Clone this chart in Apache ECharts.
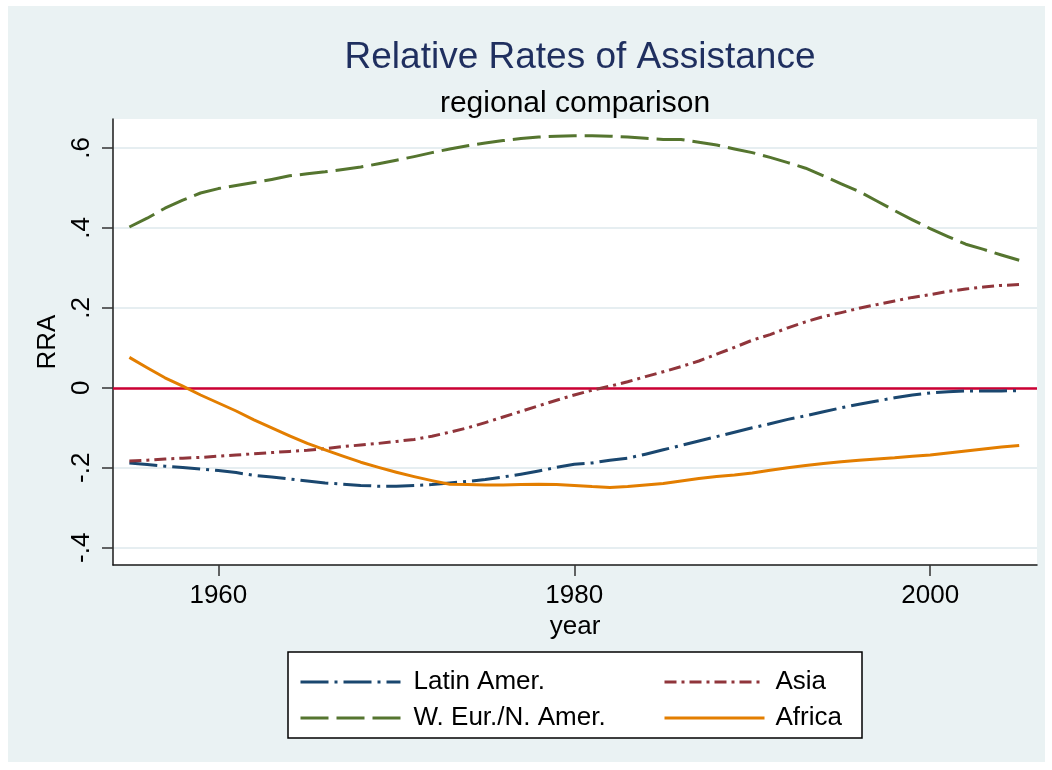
<!DOCTYPE html>
<html>
<head>
<meta charset="utf-8">
<title>Relative Rates of Assistance</title>
<script src="https://cdn.jsdelivr.net/npm/echarts@6/dist/echarts.min.js"></script>
<style>
  html, body { margin: 0; padding: 0; background: #ffffff; }
  #chart { width: 1052px; height: 770px; }
</style>
</head>
<body>
<div id="chart"></div>
<script>
// Years covered by every regional series
const years = [1955, 1956, 1957, 1958, 1959, 1960, 1961, 1962, 1963, 1964,
  1965, 1966, 1967, 1968, 1969, 1970, 1971, 1972, 1973, 1974,
  1975, 1976, 1977, 1978, 1979, 1980, 1981, 1982, 1983, 1984,
  1985, 1986, 1987, 1988, 1989, 1990, 1991, 1992, 1993, 1994,
  1995, 1996, 1997, 1998, 1999, 2000, 2001, 2002, 2003, 2004, 2005];

// Relative rate of assistance by region, one value per year
const latinAmer = [-0.188, -0.192, -0.196, -0.199, -0.203, -0.207, -0.212, -0.219, -0.223, -0.228,
  -0.233, -0.238, -0.241, -0.244, -0.246, -0.246, -0.244, -0.242, -0.238, -0.234,
  -0.229, -0.223, -0.216, -0.208, -0.199, -0.191, -0.188, -0.181, -0.176, -0.166,
  -0.155, -0.144, -0.133, -0.122, -0.111, -0.100, -0.090, -0.079, -0.070, -0.060,
  -0.050, -0.041, -0.033, -0.025, -0.018, -0.013, -0.010, -0.008, -0.008, -0.008, -0.007];

const asia = [-0.183, -0.181, -0.178, -0.176, -0.174, -0.171, -0.168, -0.165, -0.162, -0.159,
  -0.156, -0.152, -0.147, -0.143, -0.139, -0.134, -0.129, -0.121, -0.111, -0.100,
  -0.087, -0.073, -0.059, -0.045, -0.031, -0.018, -0.006, 0.004, 0.015, 0.028,
  0.040, 0.053, 0.067, 0.084, 0.101, 0.119, 0.133, 0.150, 0.165, 0.178,
  0.188, 0.199, 0.208, 0.217, 0.226, 0.233, 0.241, 0.247, 0.252, 0.256, 0.258];

const wEurNAmer = [0.402, 0.424, 0.449, 0.469, 0.487, 0.498, 0.506, 0.513, 0.521, 0.530,
  0.535, 0.540, 0.546, 0.552, 0.560, 0.569, 0.578, 0.588, 0.597, 0.605,
  0.612, 0.618, 0.623, 0.627, 0.629, 0.630, 0.630, 0.629, 0.627, 0.624,
  0.621, 0.621, 0.614, 0.607, 0.597, 0.588, 0.576, 0.563, 0.549, 0.530,
  0.510, 0.491, 0.467, 0.443, 0.420, 0.398, 0.378, 0.359, 0.346, 0.332, 0.319];

const africa = [0.076, 0.050, 0.025, 0.004, -0.018, -0.038, -0.058, -0.080, -0.100, -0.120,
  -0.139, -0.155, -0.171, -0.186, -0.199, -0.211, -0.222, -0.232, -0.241, -0.242,
  -0.243, -0.243, -0.242, -0.241, -0.242, -0.244, -0.247, -0.249, -0.247, -0.243,
  -0.239, -0.233, -0.227, -0.222, -0.218, -0.213, -0.206, -0.200, -0.194, -0.189,
  -0.185, -0.181, -0.178, -0.175, -0.171, -0.168, -0.163, -0.158, -0.153, -0.148, -0.144];

// Axis ticks and their printed labels
const xTicks = [1960, 1980, 2000];
const yTicks = [-0.4, -0.2, 0, 0.2, 0.4, 0.6];
const yTickLabels = ['-.4', '-.2', '0', '.2', '.4', '.6'];

const FONT = '"Liberation Sans", Arial, Helvetica, sans-serif';
const pairs = (vals) => years.map((y, i) => [y, vals[i]]);

const chart = echarts.init(document.getElementById('chart'), null, { renderer: 'canvas' });

const lineSeries = (name, vals, color, dash, z) => ({
  name: name,
  type: 'line',
  data: pairs(vals),
  symbol: 'none',
  showSymbol: false,
  smooth: false,
  z: z,
  color: color,
  lineStyle: { color: color, width: 3, type: dash, cap: 'butt', join: 'round' },
  emphasis: { disabled: true }
});

const legendBase = {
  orient: 'vertical',
  top: 664,
  itemWidth: 100,
  itemHeight: 14,
  itemGap: 10,
  selectedMode: false,
  itemStyle: { opacity: 0 },
  lineStyle: { width: 3 },
  textStyle: { fontFamily: FONT, fontSize: 26, color: '#000', lineHeight: 26 }
};

chart.setOption({
  animation: false,
  backgroundColor: '#ffffff',
  title: [
    {
      text: 'Relative Rates of Assistance',
      left: 575, top: 34, textAlign: 'center',
      textStyle: { fontFamily: FONT, fontSize: 37, fontWeight: 'normal', color: '#1F2F5F' }
    },
    {
      text: 'regional comparison',
      left: 570, top: 84, textAlign: 'center',
      textStyle: { fontFamily: FONT, fontSize: 30, fontWeight: 'normal', color: '#000' }
    }
  ],
  graphic: [
    { type: 'rect', z: -10, silent: true,
      shape: { x: 8, y: 6, width: 1037, height: 756 },
      style: { fill: '#EAF2F3' } },
    { type: 'rect', z: -5, silent: true,
      shape: { x: 288, y: 652, width: 574, height: 86 },
      style: { fill: '#ffffff', stroke: '#000000', lineWidth: 1.5 } }
  ],
  legend: [
    Object.assign({}, legendBase, {
      left: 294,
      data: ['Latin Amer.', 'W. Eur./N. Amer.'],
      textStyle: Object.assign({}, legendBase.textStyle, { padding: [0, 0, 0, 8] })
    }),
    Object.assign({}, legendBase, {
      left: 658,
      data: ['Asia', 'Africa'],
      textStyle: Object.assign({}, legendBase.textStyle, { padding: [0, 0, 0, 6] })
    })
  ],
  grid: {
    left: 113, right: 15, top: 119, bottom: 205,
    show: true, backgroundColor: '#ffffff', borderWidth: 0
  },
  xAxis: {
    type: 'value',
    min: 1954.08, max: 2006,
    name: 'year',
    nameLocation: 'middle',
    nameGap: 44,
    nameTextStyle: { fontFamily: FONT, fontSize: 26, color: '#000' },
    axisLine: { show: true, onZero: false, lineStyle: { color: '#1a1a1a', width: 1.5 } },
    axisTick: { show: true, length: 11, customValues: xTicks, lineStyle: { color: '#333', width: 1.5 } },
    axisLabel: {
      customValues: xTicks, margin: 18,
      fontFamily: FONT, fontSize: 26, color: '#000',
      formatter: (v) => String(v)
    },
    splitLine: { show: false }
  },
  yAxis: {
    type: 'value',
    min: -0.443, max: 0.672,
    name: 'RRA',
    nameLocation: 'middle',
    nameGap: 50,
    nameRotate: 90,
    nameTextStyle: { fontFamily: FONT, fontSize: 26, color: '#000' },
    axisLine: { show: true, onZero: false, lineStyle: { color: '#1a1a1a', width: 1.5 } },
    axisTick: { show: true, length: 11, customValues: yTicks, lineStyle: { color: '#333', width: 1.5 } },
    axisLabel: {
      customValues: yTicks,
      rotate: 90,
      margin: 18,
      fontFamily: FONT, fontSize: 26, color: '#000',
      formatter: (v) => {
        const i = yTicks.findIndex((t) => Math.abs(t - v) < 1e-9);
        return i >= 0 ? yTickLabels[i] : '';
      }
    },
    splitLine: { show: true, lineStyle: { color: '#E6EEF1', width: 2 } }
  },
  series: [
    Object.assign(lineSeries('Latin Amer.', latinAmer, '#1A476F', [28, 6, 3, 6], 5), {
      markLine: {
        silent: true,
        symbol: 'none',
        label: { show: false },
        z: 1,
        lineStyle: { color: '#CC0033', width: 2.5, type: 'solid' },
        data: [{ yAxis: 0 }]
      }
    }),
    lineSeries('W. Eur./N. Amer.', wEurNAmer, '#55752F', [28, 8], 5),
    lineSeries('Asia', asia, '#90353B', [12, 5, 3, 5], 5),
    lineSeries('Africa', africa, '#E37E00', 'solid', 5)
  ]
});
</script>
</body>
</html>
